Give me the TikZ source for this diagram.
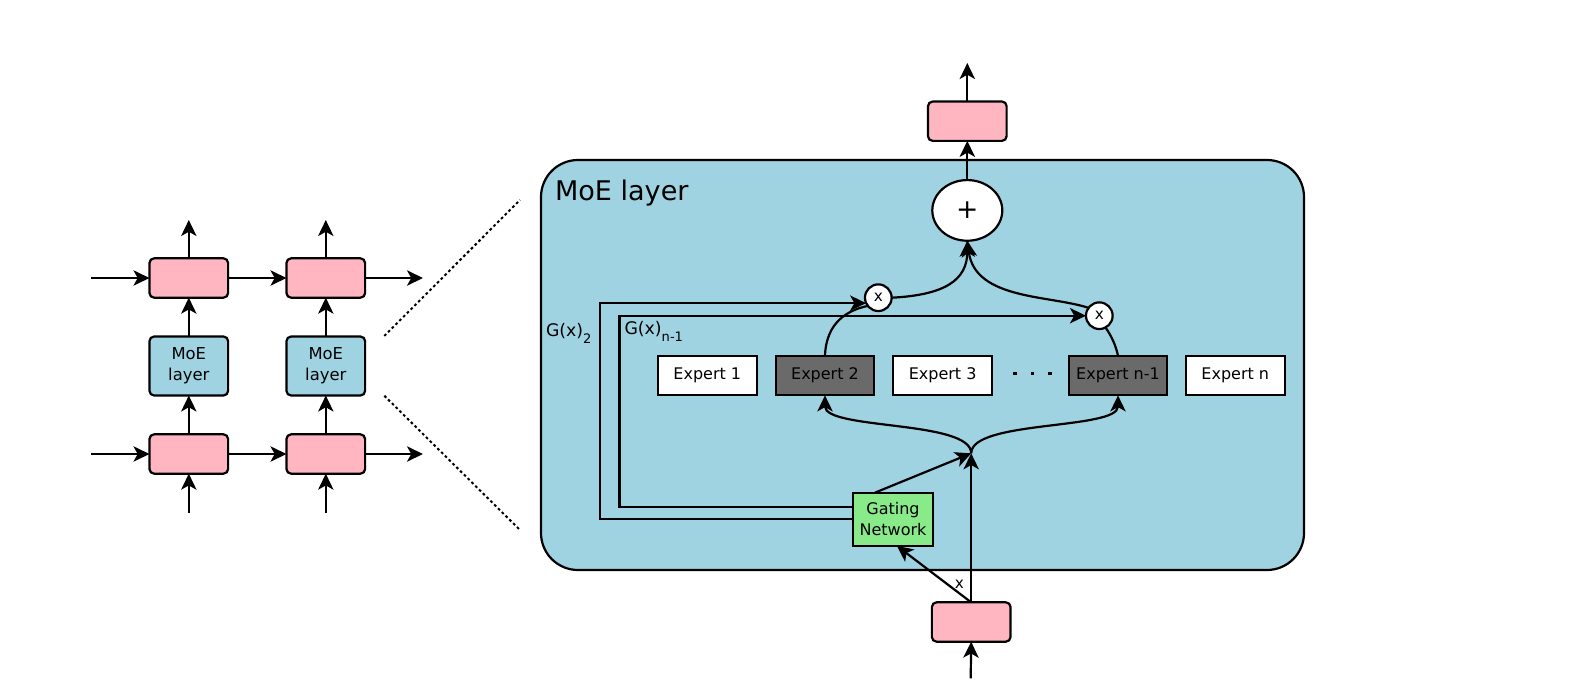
\documentclass[tikz,border=0pt]{standalone}
\usepackage{fontspec}
\setmainfont{DejaVu Sans}
\usetikzlibrary{arrows.meta,shapes.geometric,calc}
\definecolor{moeblue}{HTML}{A0D3E1}
\definecolor{cpink}{HTML}{FFB6C1}
\definecolor{cgreen}{HTML}{88EA88}
\definecolor{cgray}{HTML}{6A6A6A}
\begin{document}
\begin{tikzpicture}[x=0.75pt,y=-0.75pt,
  every node/.style={inner sep=0pt, outer sep=0pt},
  ln/.style={line width=1.65pt},
  arr/.style={ln,-{Stealth[length=12pt,width=11.5pt,inset=3.2pt]}},
  pinkbx/.style={draw,ln,fill=cpink,rounded corners=3.5pt,minimum width=59pt,minimum height=29.5pt},
  moebx/.style={draw,ln,fill=moeblue,rounded corners=3.5pt,minimum width=59pt,minimum height=44.25pt,align=center,font=\fontsize{12.3}{16}\selectfont},
  expwhite/.style={draw,ln,fill=white,minimum width=74pt,minimum height=29.5pt,font=\fontsize{12}{14}\selectfont},
  expdark/.style={expwhite,fill=cgray},
  gatebx/.style={draw,ln,fill=cgreen,minimum width=59.5pt,minimum height=40pt,align=center,font=\fontsize{12}{15.5}\selectfont},
  mult/.style={draw,ln,fill=white,circle,minimum size=20pt,font=\fontsize{11.5}{11.5}\selectfont},
  plusnode/.style={draw,ln,fill=white,ellipse,minimum width=52.5pt,minimum height=45.5pt,font=\fontsize{20}{20}\selectfont},
  zoomline/.style={line width=1.5pt,dash pattern=on 2pt off 2pt}
]
\useasboundingbox (0,0) rectangle (1578,682);

% ---------------- left overview ----------------
\node[pinkbx] (ta) at (188.8,278) {};
\node[pinkbx] (tb) at (325.8,278) {};
\node[moebx] (ma) at (188.8,366) {MoE\\layer};
\node[moebx] (mb) at (325.8,366) {MoE\\layer};
\node[pinkbx] (ba) at (188.8,454) {};
\node[pinkbx] (bb) at (325.8,454) {};

\coordinate (tin) at (91,278);
\coordinate (tout) at (423,278);
\coordinate (bin) at (91,454);
\coordinate (bout) at (423,454);
\coordinate (taup) at (188.8,220);
\coordinate (tbup) at (325.8,220);
\coordinate (bain) at (188.8,512.7);
\coordinate (bbin) at (325.8,512.7);

\draw[arr] (tin) -- (ta.west);
\draw[arr] (ta.east) -- (tb.west);
\draw[arr] (tb.east) -- (tout);
\draw[arr] (bin) -- (ba.west);
\draw[arr] (ba.east) -- (bb.west);
\draw[arr] (bb.east) -- (bout);
\draw[arr] (ta.north) -- (taup);
\draw[arr] (tb.north) -- (tbup);
\draw[arr] (ma.north) -- (ta.south);
\draw[arr] (mb.north) -- (tb.south);
\draw[arr] (ba.north) -- (ma.south);
\draw[arr] (bb.north) -- (mb.south);
\draw[arr] (bain) -- (ba.south);
\draw[arr] (bbin) -- (bb.south);

% zoom lines
\coordinate (z1a) at (384.3,336);
\coordinate (z1b) at (520,200);
\coordinate (z2a) at (384.3,395.7);
\coordinate (z2b) at (520,530);
\draw[zoomline] (z1a) -- (z1b);
\draw[zoomline] (z2a) -- (z2b);

% ---------------- MoE layer detail ----------------
\draw[ln,fill=moeblue,rounded corners=27.75pt] (541,160) rectangle (1304,570);
\node[anchor=base west,font=\fontsize{20.3}{24}\selectfont] (title) at (555,200) {MoE layer};

\node[pinkbx] (outp) at (967.3,121.2) {};
\coordinate (outtip) at (967.3,63);
\node[plusnode] (plus) at (967.3,210.4) {+};
\node[mult] (c1) at (878.3,297.7) {x};
\node[mult] (c2) at (1099.3,315.7) {x};

\node[expwhite] (e1) at (707.3,375.7) {Expert 1};
\node[expdark]  (e2) at (825,375.7) {Expert 2};
\node[expwhite] (e3) at (942.6,375.7) {Expert 3};
\node[expdark]  (en1) at (1118,375.7) {Expert n-1};
\node[expwhite] (en) at (1235.3,375.7) {Expert n};
\foreach \dx in {1015,1032.7,1050}{\fill (\dx-1.6,371.7) rectangle (\dx+1.6,374.9);}

\node[gatebx] (g) at (893,519.3) {Gating\\Network};
\node[pinkbx] (inp) at (971.2,622) {};
\coordinate (intail) at (970.7,678.3);
\coordinate (j) at (971.2,453.3);

\node[anchor=base west,font=\fontsize{13}{14}\selectfont] (g2) at (546,336.7) {G(x)\raisebox{-0.42em}{\fontsize{9.8}{10}\selectfont 2}};
\node[anchor=base west,font=\fontsize{13}{14}\selectfont] (gn1) at (624.5,334) {G(x)\raisebox{-0.42em}{\fontsize{9.8}{10}\selectfont n-1}};
\node[font=\fontsize{11.5}{11.5}\selectfont] (xl) at (959.5,584) {x};

% input paths
\draw[arr] (intail) -- (inp.south);
\draw[arr] (inp.north) -- (j);
\draw[arr] (inp.north) -- ($(g.south)+(4,0)$);
\draw[arr] ($(g.north west)+(21.7,0)$) -- (j);

% dispatch to experts
\draw[arr] (j) .. controls (971.2,420) and (825,430) .. (e2.south);
\draw[arr] (j) .. controls (971.2,420) and (1118,430) .. (en1.south);

% gating weights
\draw[arr] (g.west) -- (599.7,519.3) |- (c1.204.5);
\draw[arr] ($(g.west)+(0,-12.6)$) -- (619.5,506.7) |- (c2.west);

% expert outputs to multipliers
\draw[ln] (e2.north) .. controls (826,322) and (848,310) .. (c1.218);
\draw[ln] (en1.north) .. controls (1116,346) and (1112,337) .. (c2.298.5);

% multipliers to sum
\draw[arr] (c1.east) .. controls (945,295) and (967.3,280) .. (plus.south);
\draw[arr] (c2.144.5) .. controls (1050,295) and (975,300) .. (plus.south);

% output
\draw[arr] (plus.north) -- (outp.south);
\draw[arr] (outp.north) -- (outtip);
\end{tikzpicture}
\end{document}
